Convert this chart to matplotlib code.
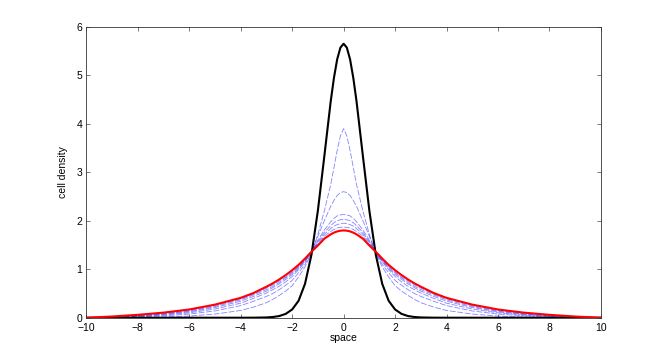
import numpy as np
import matplotlib
matplotlib.use('Agg')
import matplotlib.pyplot as plt

# sample positions (space)
x = [-10, -9, -8, -7, -6, -5, -4, -3.5, -3, -2.75, -2.5, -2.25, -2, -1.75, -1.5, -1.25,
     -1, -0.75, -0.5, -0.375, -0.25, -0.125, 0, 0.125, 0.25, 0.375, 0.5, 0.75, 1, 1.25,
     1.5, 1.75, 2, 2.25, 2.5, 2.75, 3, 3.5, 4, 5, 6, 7, 8, 9, 10]

# initial density (black)
initial = [0, 0, 0, 0, 0, 0, 0, 0.001, 0.006, 0.015, 0.035, 0.08, 0.17, 0.35, 0.70, 1.30,
           2.21, 3.33, 4.47, 4.95, 5.33, 5.57, 5.65, 5.57, 5.33, 4.95, 4.47, 3.33, 2.21, 1.30,
           0.70, 0.35, 0.17, 0.08, 0.035, 0.015, 0.006, 0.001, 0, 0, 0, 0, 0, 0, 0]

# intermediate snapshots (blue dashed)
snap1 = [0, 0.002, 0.006, 0.015, 0.035, 0.075, 0.15, 0.22, 0.31, 0.38, 0.46, 0.55, 0.66, 0.84,
         1.05, 1.32, 1.72, 2.2, 2.75, 3.1, 3.45, 3.75, 3.9, 3.75, 3.45, 3.1, 2.75, 2.2, 1.72,
         1.32, 1.05, 0.84, 0.66, 0.55, 0.46, 0.38, 0.31, 0.22, 0.15, 0.075, 0.035, 0.015,
         0.006, 0.002, 0]
snap2 = [0, 0.007, 0.018, 0.04, 0.075, 0.14, 0.25, 0.34, 0.44, 0.50, 0.58, 0.67, 0.77, 0.93,
         1.10, 1.34, 1.68, 2.0, 2.3, 2.42, 2.52, 2.58, 2.6, 2.58, 2.52, 2.42, 2.3, 2.0, 1.68,
         1.34, 1.10, 0.93, 0.77, 0.67, 0.58, 0.50, 0.44, 0.34, 0.25, 0.14, 0.075, 0.04, 0.018,
         0.007, 0]
snap3 = [0, 0.01, 0.028, 0.055, 0.10, 0.18, 0.30, 0.40, 0.51, 0.58, 0.65, 0.74, 0.85, 0.99,
         1.15, 1.345, 1.60, 1.81, 1.98, 2.05, 2.10, 2.12, 2.13, 2.12, 2.10, 2.05, 1.98, 1.81,
         1.60, 1.345, 1.15, 0.99, 0.85, 0.74, 0.65, 0.58, 0.51, 0.40, 0.30, 0.18, 0.10, 0.055,
         0.028, 0.01, 0]
snap4 = [0, 0.013, 0.034, 0.068, 0.12, 0.21, 0.34, 0.44, 0.55, 0.62, 0.70, 0.79, 0.89, 1.02,
         1.17, 1.35, 1.57, 1.76, 1.9, 1.96, 2.0, 2.02, 2.03, 2.02, 2.0, 1.96, 1.9, 1.76, 1.57,
         1.35, 1.17, 1.02, 0.89, 0.79, 0.70, 0.62, 0.55, 0.44, 0.34, 0.21, 0.12, 0.068, 0.034,
         0.013, 0]
snap5 = [0, 0.016, 0.04, 0.078, 0.135, 0.23, 0.37, 0.47, 0.58, 0.65, 0.73, 0.82, 0.92, 1.04,
         1.18, 1.35, 1.54, 1.72, 1.84, 1.89, 1.92, 1.94, 1.95, 1.94, 1.92, 1.89, 1.84, 1.72,
         1.54, 1.35, 1.18, 1.04, 0.92, 0.82, 0.73, 0.65, 0.58, 0.47, 0.37, 0.23, 0.135, 0.078,
         0.04, 0.016, 0]
snap6 = [0, 0.018, 0.045, 0.088, 0.15, 0.25, 0.39, 0.49, 0.61, 0.68, 0.76, 0.84, 0.94, 1.06,
         1.20, 1.355, 1.51, 1.68, 1.78, 1.82, 1.85, 1.865, 1.87, 1.865, 1.85, 1.82, 1.78, 1.68,
         1.51, 1.355, 1.20, 1.06, 0.94, 0.84, 0.76, 0.68, 0.61, 0.49, 0.39, 0.25, 0.15, 0.088,
         0.045, 0.018, 0]

# final density (red)
final = [0, 0.025, 0.06, 0.105, 0.17, 0.27, 0.41, 0.51, 0.64, 0.71, 0.79, 0.88, 0.98, 1.09,
         1.22, 1.36, 1.49, 1.63, 1.72, 1.755, 1.78, 1.795, 1.80, 1.795, 1.78, 1.755, 1.72, 1.63,
         1.49, 1.36, 1.22, 1.09, 0.98, 0.88, 0.79, 0.71, 0.64, 0.51, 0.41, 0.27, 0.17, 0.105,
         0.06, 0.025, 0]

snapshots = [snap1, snap2, snap3, snap4, snap5, snap6]

plt.rcParams['font.family'] = ['Liberation Sans', 'DejaVu Sans']
plt.rcParams['font.size'] = 7.5

fig = plt.figure(figsize=(6.64, 3.57), dpi=100)
ax = fig.add_axes([0.13, 0.11, 0.775, 0.815])

for s in snapshots:
    ax.plot(x, s, color='#3333ff', lw=0.6, alpha=0.6, linestyle=(0, (7, 2)))
ax.plot(x, initial, color='black', lw=1.5)
ax.plot(x, final, color='red', lw=1.5)

ax.set_xlim(-10, 10)
ax.set_ylim(0, 6)
ax.set_xticks(np.arange(-10, 11, 2))
ax.set_yticks(np.arange(0, 7, 1))
ax.tick_params(direction='in', top=True, right=True, length=3, width=0.5,
               color='#444444')
ax.tick_params(axis='x', pad=4)
ax.tick_params(axis='y', pad=3)
for sp in ax.spines.values():
    sp.set_linewidth(0.6)
    sp.set_color('#333333')
ax.set_xlabel('space', labelpad=0)
ax.set_ylabel('cell density', labelpad=6)

fig.savefig('out.png', dpi=100)
